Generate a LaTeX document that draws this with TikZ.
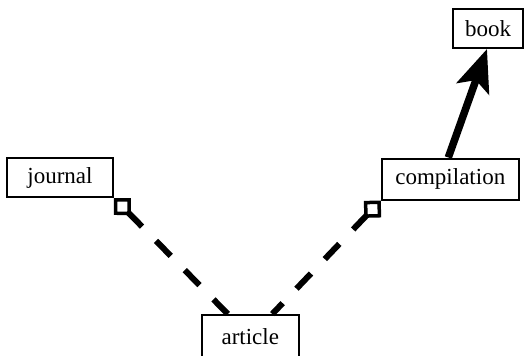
\documentclass[tikz,border=0pt]{standalone}
\usepackage{fontspec}
\setmainfont{Liberation Serif}
\usetikzlibrary{arrows.meta}

\begin{document}
\begin{tikzpicture}[x=1pt, y=-1pt, >=Stealth]
  \tikzstyle{entity}=[draw, line width=2pt, font=\fontsize{23}{27}\selectfont, minimum height=39pt, inner sep=0pt]
  \tikzstyle{part}=[line width=6pt, dash pattern=on 21pt off 20pt, {Diamond[open, length=24pt, width=24pt, line width=3.5pt]}-]
  \useasboundingbox (0,0) rectangle (531,356);
  \node[entity, minimum width=70pt] (book) at (488,28.5) {book};
  \node[entity, minimum width=137pt, minimum height=41pt] (compilation) at (450.3,179) {compilation};
  \node[entity, minimum width=106pt] (journal) at (60,177.5) {journal};
  \node[entity, minimum width=97pt, minimum height=44pt] (article) at (250.3,337) {article};
  \draw[part] (journal.south east) -- (article);
  \draw[part] (compilation.south west) -- (article);
  \draw[line width=7.5pt, -{Stealth[length=42pt, width=34pt, inset=9pt]}] ([xshift=-2pt]compilation.north) -- ([xshift=-1pt]book.south);
\end{tikzpicture}
\end{document}
